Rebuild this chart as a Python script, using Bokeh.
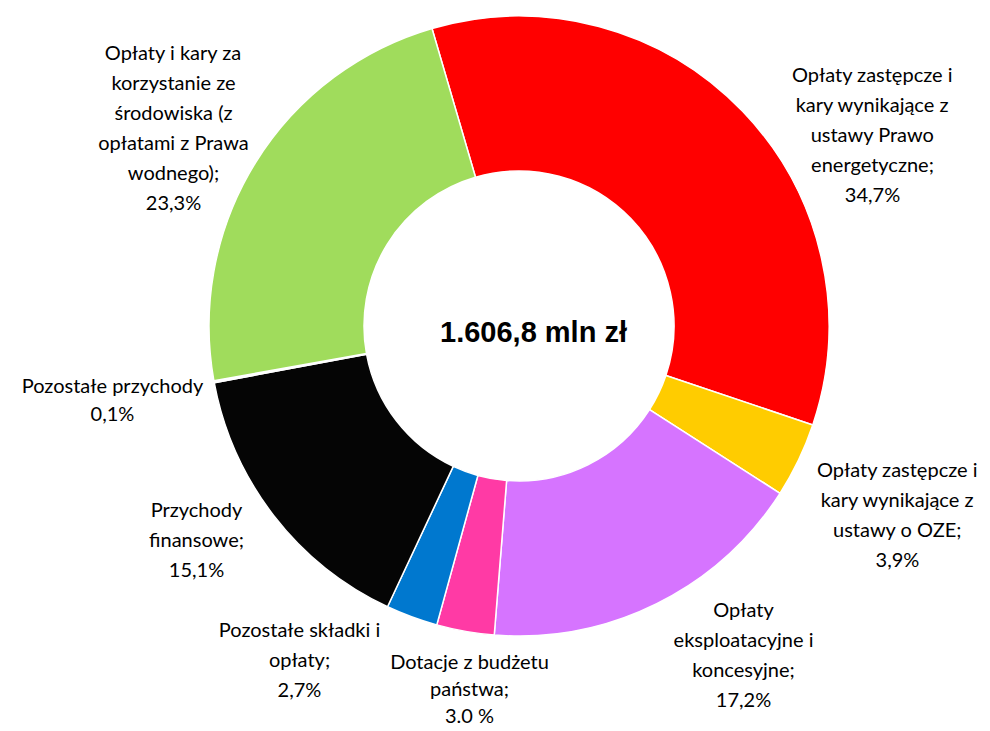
import math
from bokeh.plotting import figure
from bokeh.models import Range1d, ColumnDataSource
from bokeh.core.properties import value
from bokeh.embed import file_html
from bokeh.resources import INLINE

categories = [
    "Opłaty zastępcze i kary wynikające z ustawy Prawo energetyczne",
    "Opłaty zastępcze i kary wynikające z ustawy o OZE",
    "Opłaty eksploatacyjne i koncesyjne",
    "Dotacje z budżetu państwa",
    "Pozostałe składki i opłaty",
    "Przychody finansowe",
    "Pozostałe przychody",
    "Opłaty i kary za korzystanie ze środowiska (z opłatami z Prawa wodnego)",
]
shares = [34.7, 3.9, 17.2, 3.0, 2.7, 15.1, 0.1, 23.3]
colors = ["#FF0000", "#FFCC00", "#D674FF", "#FF3AA5", "#0078CF", "#050505", "#FFFFFF", "#A0DC5C"]
label_lines = [
    ["Opłaty zastępcze i", "kary wynikające z", "ustawy Prawo", "energetyczne;", "34,7%"],
    ["Opłaty zastępcze i", "kary wynikające z", "ustawy o OZE;", "3,9%"],
    ["Opłaty", "eksploatacyjne i", "koncesyjne;", "17,2%"],
    ["Dotacje z budżetu", "państwa;", "3.0 %"],
    ["Pozostałe składki i", "opłaty;", "2,7%"],
    ["Przychody", "finansowe;", "15,1%"],
    ["Pozostałe przychody", "0,1%"],
    ["Opłaty i kary za", "korzystanie ze", "środowiska (z", "opłatami z Prawa", "wodnego);", "23,3%"],
]
total_label = "1.606,8 mln zł"

W, H = 990, 731
# label anchor (top line centre) in page pixels, and line spacing
label_pos = [(872, 73), (897, 468), (743, 608), (469, 660), (299, 628), (196, 508), (112, 384), (173, 51)]
line_gaps = [30, 30, 30, 27, 30, 30, 28, 30]

cx, cy = 518.5, H - 325.5
r_out, r_in = 310, 155
start = math.radians(106.3)

starts, ends = [], []
a = start
tot = sum(shares)
for s in shares:
    starts.append(a)
    a = a - s / tot * 2 * math.pi
    ends.append(a)

src = ColumnDataSource(dict(start=starts, end=ends, color=colors, cat=categories))

p = figure(width=W, height=H, output_backend="svg", toolbar_location=None,
           x_range=Range1d(0, W), y_range=Range1d(0, H), min_border=0)
p.axis.visible = False
p.grid.visible = False
p.outline_line_color = None

p.annular_wedge(x=cx, y=cy, inner_radius=r_in, outer_radius=r_out,
                start_angle="start", end_angle="end", direction="clock",
                fill_color="color", line_color="white", line_width=1.5, source=src)

xs, ys, ts = [], [], []
for (lx, ly), gap, lines in zip(label_pos, line_gaps, label_lines):
    for i, t in enumerate(lines):
        xs.append(lx)
        ys.append(H - (ly + i * gap))
        ts.append(t)
p.text(x=xs, y=ys, text=ts, text_align="center", text_baseline="middle",
       text_font=value("Lato"), text_font_size="20px", text_color="#000000")

p.text(x=[533], y=[H - 331], text=[total_label], text_align="center", text_baseline="middle",
       text_font=value("Liberation Sans"), text_font_size="29px", text_font_style="bold",
       text_color="#000000")

open("out.html", "w").write(file_html(p, INLINE))
